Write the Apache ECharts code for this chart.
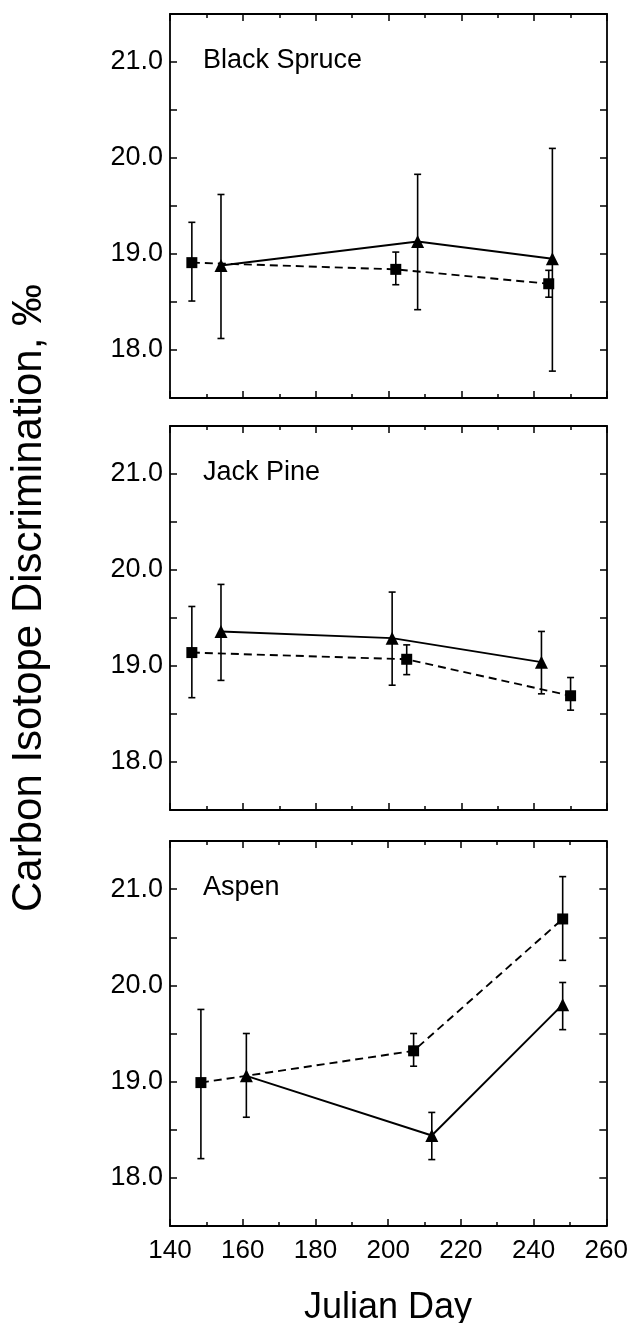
<!DOCTYPE html>
<html>
<head>
<meta charset="utf-8">
<script src="https://cdn.jsdelivr.net/npm/echarts@6/dist/echarts.min.js"></script>
<style>
html,body{margin:0;padding:0;background:#fff;}
#chart{width:631px;height:1323px;}
</style>
</head>
<body>
<div id="chart"></div>
<script>
// ---- Data (Julian day, discrimination ‰, error bar low/high) ----
const panelNames = ['Black Spruce', 'Jack Pine', 'Aspen'];
const xTicks = [140, 160, 180, 200, 220, 240, 260];
const yTicks = [18.0, 19.0, 20.0, 21.0];

// Black Spruce
const bsSquareDay  = [146, 202, 244];
const bsSquareVal  = [18.91, 18.84, 18.69];
const bsSquareLow  = [18.51, 18.68, 18.55];
const bsSquareHigh = [19.33, 19.02, 18.83];
const bsTriDay     = [154, 208, 245];
const bsTriVal     = [18.88, 19.13, 18.95];
const bsTriLow     = [18.12, 18.42, 17.78];
const bsTriHigh    = [19.62, 19.83, 20.10];

// Jack Pine
const jpSquareDay  = [146, 205, 250];
const jpSquareVal  = [19.14, 19.07, 18.69];
const jpSquareLow  = [18.67, 18.91, 18.54];
const jpSquareHigh = [19.62, 19.22, 18.88];
const jpTriDay     = [154, 201, 242];
const jpTriVal     = [19.36, 19.29, 19.04];
const jpTriLow     = [18.85, 18.80, 18.71];
const jpTriHigh    = [19.85, 19.77, 19.36];

// Aspen
const asSquareDay  = [148.5, 207, 248];
const asSquareVal  = [18.99, 19.32, 20.69];
const asSquareLow  = [18.20, 19.16, 20.26];
const asSquareHigh = [19.75, 19.50, 21.13];
const asTriDay     = [161, 212, 248];
const asTriVal     = [19.06, 18.44, 19.80];
const asTriLow     = [18.63, 18.19, 19.54];
const asTriHigh    = [19.50, 18.68, 20.03];

const panels = [
  {sq:[bsSquareDay,bsSquareVal,bsSquareLow,bsSquareHigh], tr:[bsTriDay,bsTriVal,bsTriLow,bsTriHigh]},
  {sq:[jpSquareDay,jpSquareVal,jpSquareLow,jpSquareHigh], tr:[jpTriDay,jpTriVal,jpTriLow,jpTriHigh]},
  {sq:[asSquareDay,asSquareVal,asSquareLow,asSquareHigh], tr:[asTriDay,asTriVal,asTriLow,asTriHigh]}
];

const FONT = '"Liberation Sans", Arial, Helvetica, sans-serif';
const gridTops = [14, 426, 841];
const gridHeights = [384, 384, 385];

const grids = [], xAxes = [], yAxes = [], series = [], graphics = [];

const lineAxis = {show:true, lineStyle:{color:'#000', width:1.8}};

function errRender(params, api) {
  const x = api.value(0), lo = api.value(1), hi = api.value(2);
  const a = api.coord([x, lo]), b = api.coord([x, hi]);
  const w = 3.5, st = {stroke:'#000', lineWidth:1.6};
  return {type:'group', children:[
    {type:'line', shape:{x1:a[0], y1:a[1], x2:b[0], y2:b[1]}, style:st},
    {type:'line', shape:{x1:a[0]-w, y1:a[1], x2:a[0]+w, y2:a[1]}, style:st},
    {type:'line', shape:{x1:b[0]-w, y1:b[1], x2:b[0]+w, y2:b[1]}, style:st}
  ]};
}

panels.forEach((p, i) => {
  grids.push({left:170, top:gridTops[i], width:437, height:gridHeights[i], containLabel:false});
  const isLast = i === panels.length - 1;
  const xBase = {
    type:'value', gridIndex:i, min:140, max:260, interval:20,
    axisLine:lineAxis, splitLine:{show:false},
    axisTick:{show:true, inside:true, length:7, lineStyle:{color:'#000', width:1.5}},
    minorTick:{show:true, splitNumber:2, length:4, lineStyle:{color:'#000', width:1.5}},
    minorSplitLine:{show:false}
  };
  xAxes.push(Object.assign({}, xBase, {
    position:'bottom',
    axisLabel:{show:isLast, color:'#000', fontSize:26, fontFamily:FONT, margin:12,
      formatter: v => xTicks.includes(v) ? String(v) : ''}
  }));
  xAxes.push(Object.assign({}, xBase, {position:'top', axisLabel:{show:false}}));
  const yBase = {
    type:'value', gridIndex:i, min:17.5, max:21.5, interval:0.5,
    axisLine:lineAxis, splitLine:{show:false},
    axisTick:{show:true, inside:true, length:7, lineStyle:{color:'#000', width:1.5}}
  };
  yAxes.push(Object.assign({}, yBase, {
    position:'left',
    axisLabel:{show:true, color:'#000', fontSize:27, fontFamily:FONT, margin:7,
      formatter: v => yTicks.some(t => Math.abs(t - v) < 1e-9) ? v.toFixed(1) : ''}
  }));
  yAxes.push(Object.assign({}, yBase, {position:'right', axisLabel:{show:false}}));

  const xi = 2*i, yi = 2*i;
  // error bars
  [p.sq, p.tr].forEach(s => {
    series.push({
      type:'custom', xAxisIndex:xi, yAxisIndex:yi, renderItem:errRender,
      encode:{x:0, y:[1,2]}, silent:true, z:2,
      data: s[0].map((d, k) => [d, s[2][k], s[3][k]])
    });
  });
  // dashed squares
  series.push({
    type:'line', xAxisIndex:xi, yAxisIndex:yi, z:3,
    data: p.sq[0].map((d, k) => [d, p.sq[1][k]]),
    symbol:'rect', symbolSize:11, showSymbol:true,
    itemStyle:{color:'#000'},
    lineStyle:{color:'#000', width:1.9, type:[8,5]}
  });
  // solid triangles
  series.push({
    type:'line', xAxisIndex:xi, yAxisIndex:yi, z:3,
    data: p.tr[0].map((d, k) => [d, p.tr[1][k]]),
    symbol:'triangle', symbolSize:13, showSymbol:true,
    itemStyle:{color:'#000'},
    lineStyle:{color:'#000', width:1.9, type:'solid'}
  });
  graphics.push({
    type:'text', left:203, top:gridTops[i] + 33,
    style:{text:panelNames[i], fill:'#000', font:'27px ' + FONT}
  });
});

graphics.push({
  type:'text', x:29, y:598, rotation:Math.PI/2,
  style:{text:'Carbon Isotope Discrimination, ‰', fill:'#000', font:'42px ' + FONT,
    align:'center', verticalAlign:'middle'}
});
graphics.push({
  type:'text', x:388, y:1308,
  style:{text:'Julian Day', fill:'#000', font:'36px ' + FONT, align:'center', verticalAlign:'middle'}
});

const chart = echarts.init(document.getElementById('chart'), null, {renderer:'canvas'});
chart.setOption({
  animation:false,
  backgroundColor:'#fff',
  grid:grids, xAxis:xAxes, yAxis:yAxes, series:series, graphic:graphics
});
</script>
</body>
</html>
